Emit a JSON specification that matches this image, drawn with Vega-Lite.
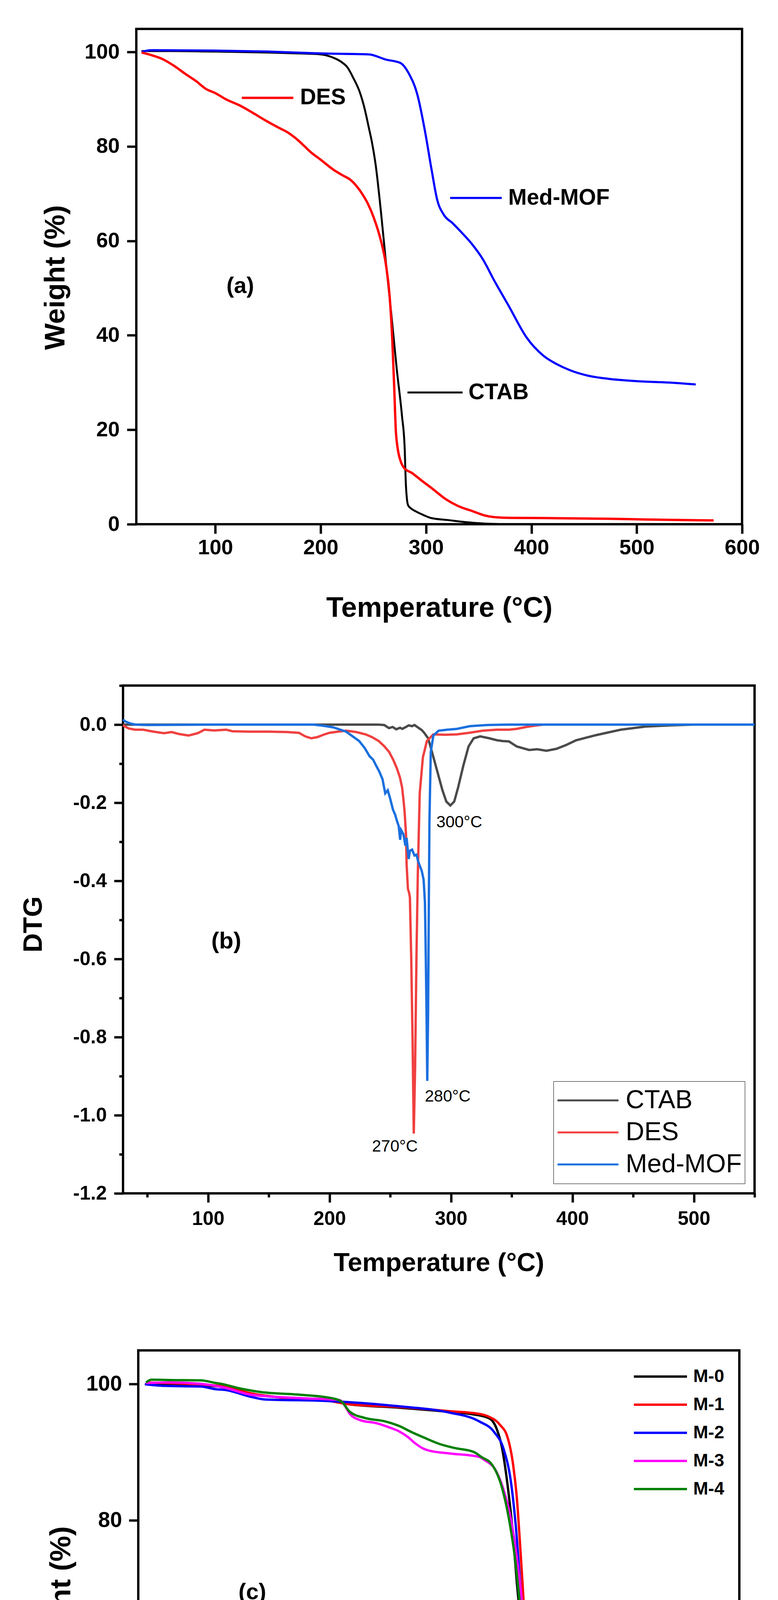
{
  "$schema": "https://vega.github.io/schema/vega-lite/v6.json",
  "padding": {"left": 0, "top": 71, "right": 0, "bottom": 0},
  "background": "white",
  "config": {
    "view": {"stroke": null},
    "font": "Liberation Sans",
    "axis": {
      "domain": false,
      "grid": false,
      "tickColor": "black",
      "tickWidth": 6,
      "labelColor": "black",
      "labelFont": "Liberation Sans",
      "labelFontWeight": "bold",
      "labelFlush": false,
      "labelOverlap": false,
      "titleColor": "black",
      "titleFont": "Liberation Sans",
      "titleFontWeight": "bold"
    }
  },
  "resolve": {
    "scale": {"color": "independent", "strokeWidth": "independent"},
    "legend": {"color": "independent", "strokeWidth": "independent"}
  },
  "datasets": {
    "a_lines": [
      {"series": "CTAB", "t": 30, "w": 100.2}, {"series": "CTAB", "t": 60, "w": 100.2}, {"series": "CTAB", "t": 100, "w": 100.1},
      {"series": "CTAB", "t": 150, "w": 99.9}, {"series": "CTAB", "t": 180, "w": 99.7}, {"series": "CTAB", "t": 200, "w": 99.5},
      {"series": "CTAB", "t": 212, "w": 98.8}, {"series": "CTAB", "t": 219, "w": 98.0}, {"series": "CTAB", "t": 225.6, "w": 96.7},
      {"series": "CTAB", "t": 231, "w": 94.5}, {"series": "CTAB", "t": 237.3, "w": 91.4}, {"series": "CTAB", "t": 241.5, "w": 88.2},
      {"series": "CTAB", "t": 245.6, "w": 84.1}, {"series": "CTAB", "t": 249, "w": 80.5}, {"series": "CTAB", "t": 252.2, "w": 76.1},
      {"series": "CTAB", "t": 257.2, "w": 66.2}, {"series": "CTAB", "t": 262.2, "w": 54.9}, {"series": "CTAB", "t": 267.2, "w": 44.2},
      {"series": "CTAB", "t": 272.2, "w": 32.9}, {"series": "CTAB", "t": 277.2, "w": 22.9}, {"series": "CTAB", "t": 279.7, "w": 16.3},
      {"series": "CTAB", "t": 280.9, "w": 8.3}, {"series": "CTAB", "t": 281.8, "w": 5.5}, {"series": "CTAB", "t": 283, "w": 4.0},
      {"series": "CTAB", "t": 286, "w": 3.3}, {"series": "CTAB", "t": 290.5, "w": 2.7}, {"series": "CTAB", "t": 297, "w": 2.0},
      {"series": "CTAB", "t": 305, "w": 1.3}, {"series": "CTAB", "t": 320, "w": 0.9}, {"series": "CTAB", "t": 345, "w": 0.3},
      {"series": "CTAB", "t": 370, "w": 0.05}, {"series": "CTAB", "t": 420, "w": 0.0},
      {"series": "Med-MOF", "t": 30, "w": 100.0}, {"series": "Med-MOF", "t": 35, "w": 100.3}, {"series": "Med-MOF", "t": 40, "w": 100.4},
      {"series": "Med-MOF", "t": 100, "w": 100.3}, {"series": "Med-MOF", "t": 150, "w": 100.1}, {"series": "Med-MOF", "t": 200, "w": 99.7},
      {"series": "Med-MOF", "t": 245.6, "w": 99.5}, {"series": "Med-MOF", "t": 262, "w": 98.4}, {"series": "Med-MOF", "t": 275.5, "w": 97.7},
      {"series": "Med-MOF", "t": 283.8, "w": 95.4}, {"series": "Med-MOF", "t": 292, "w": 90.8}, {"series": "Med-MOF", "t": 298.8, "w": 83.5},
      {"series": "Med-MOF", "t": 305.5, "w": 74.8}, {"series": "Med-MOF", "t": 310.5, "w": 68.8}, {"series": "Med-MOF", "t": 317, "w": 65.5},
      {"series": "Med-MOF", "t": 325, "w": 63.8}, {"series": "Med-MOF", "t": 332, "w": 62.2}, {"series": "Med-MOF", "t": 343, "w": 59.5},
      {"series": "Med-MOF", "t": 353.7, "w": 56.2}, {"series": "Med-MOF", "t": 365, "w": 51.5}, {"series": "Med-MOF", "t": 378.6, "w": 46.2},
      {"series": "Med-MOF", "t": 395.3, "w": 39.6}, {"series": "Med-MOF", "t": 411.9, "w": 35.6}, {"series": "Med-MOF", "t": 425, "w": 33.8},
      {"series": "Med-MOF", "t": 436.9, "w": 32.6}, {"series": "Med-MOF", "t": 455, "w": 31.4}, {"series": "Med-MOF", "t": 473, "w": 30.8},
      {"series": "Med-MOF", "t": 500, "w": 30.3}, {"series": "Med-MOF", "t": 530, "w": 30.0}, {"series": "Med-MOF", "t": 556, "w": 29.6},
      {"series": "DES", "t": 30, "w": 99.9}, {"series": "DES", "t": 40, "w": 99.3}, {"series": "DES", "t": 50, "w": 98.5},
      {"series": "DES", "t": 60, "w": 97.2}, {"series": "DES", "t": 72, "w": 95.3}, {"series": "DES", "t": 82, "w": 93.8},
      {"series": "DES", "t": 91, "w": 92.2}, {"series": "DES", "t": 100, "w": 91.3}, {"series": "DES", "t": 110, "w": 90.0},
      {"series": "DES", "t": 124, "w": 88.6}, {"series": "DES", "t": 135, "w": 87.2}, {"series": "DES", "t": 147, "w": 85.6},
      {"series": "DES", "t": 160, "w": 84.0}, {"series": "DES", "t": 170, "w": 82.8}, {"series": "DES", "t": 176, "w": 81.8},
      {"series": "DES", "t": 183, "w": 80.4}, {"series": "DES", "t": 190, "w": 78.9}, {"series": "DES", "t": 200, "w": 77.2},
      {"series": "DES", "t": 212, "w": 75.1}, {"series": "DES", "t": 220, "w": 74.0}, {"series": "DES", "t": 229, "w": 72.8},
      {"series": "DES", "t": 239, "w": 70.1}, {"series": "DES", "t": 245, "w": 67.8}, {"series": "DES", "t": 250.6, "w": 64.8},
      {"series": "DES", "t": 257, "w": 60.2}, {"series": "DES", "t": 262, "w": 54.9}, {"series": "DES", "t": 265.5, "w": 48.2},
      {"series": "DES", "t": 268, "w": 38.9}, {"series": "DES", "t": 269.7, "w": 29.6}, {"series": "DES", "t": 271.4, "w": 19.6},
      {"series": "DES", "t": 272.8, "w": 16.5}, {"series": "DES", "t": 273.9, "w": 15.0}, {"series": "DES", "t": 276, "w": 13.3},
      {"series": "DES", "t": 278.9, "w": 12.0}, {"series": "DES", "t": 287, "w": 10.8}, {"series": "DES", "t": 295.5, "w": 9.3},
      {"series": "DES", "t": 305, "w": 7.7}, {"series": "DES", "t": 318.8, "w": 5.3}, {"series": "DES", "t": 330, "w": 3.9},
      {"series": "DES", "t": 345, "w": 2.7}, {"series": "DES", "t": 355, "w": 1.9}, {"series": "DES", "t": 365, "w": 1.5},
      {"series": "DES", "t": 380, "w": 1.35}, {"series": "DES", "t": 412, "w": 1.3}, {"series": "DES", "t": 473, "w": 1.15},
      {"series": "DES", "t": 510, "w": 1.0}, {"series": "DES", "t": 573, "w": 0.8}
    ],
    "a_keys": [
      {"series": "DES", "t": 125.1, "t2": 174.1, "w": 90.3},
      {"series": "Med-MOF", "t": 322.9, "t2": 371.9, "w": 69.1},
      {"series": "CTAB", "t": 282.4, "t2": 334.7, "w": 27.9}
    ],
    "a_labels": [
      {"label": "DES", "t": 180.4, "w": 90.3},
      {"label": "Med-MOF", "t": 378, "w": 69.1},
      {"label": "CTAB", "t": 340.3, "w": 27.9}
    ],
    "a_tag": [{"label": "(a)", "t": 123.7, "w": 50.4}],
    "b_lines": [
      {"series": "CTAB", "t": 30, "d": 0.0}, {"series": "CTAB", "t": 50, "d": 0.0}, {"series": "CTAB", "t": 100, "d": 0.0},
      {"series": "CTAB", "t": 150, "d": 0.0}, {"series": "CTAB", "t": 200, "d": 0.0}, {"series": "CTAB", "t": 240, "d": 0.0},
      {"series": "CTAB", "t": 245, "d": -0.001}, {"series": "CTAB", "t": 249, "d": -0.009}, {"series": "CTAB", "t": 252, "d": -0.006},
      {"series": "CTAB", "t": 255, "d": -0.012}, {"series": "CTAB", "t": 258, "d": -0.008}, {"series": "CTAB", "t": 260, "d": -0.011},
      {"series": "CTAB", "t": 263, "d": -0.006}, {"series": "CTAB", "t": 265.2, "d": -0.002}, {"series": "CTAB", "t": 268, "d": -0.004},
      {"series": "CTAB", "t": 270, "d": -0.001}, {"series": "CTAB", "t": 272.7, "d": -0.007}, {"series": "CTAB", "t": 276, "d": -0.014},
      {"series": "CTAB", "t": 278, "d": -0.021}, {"series": "CTAB", "t": 281.2, "d": -0.035}, {"series": "CTAB", "t": 284.4, "d": -0.07},
      {"series": "CTAB", "t": 288.7, "d": -0.119}, {"series": "CTAB", "t": 293, "d": -0.168}, {"series": "CTAB", "t": 296.2, "d": -0.197},
      {"series": "CTAB", "t": 299.5, "d": -0.207}, {"series": "CTAB", "t": 302.7, "d": -0.197}, {"series": "CTAB", "t": 305.9, "d": -0.161},
      {"series": "CTAB", "t": 310.2, "d": -0.105}, {"series": "CTAB", "t": 314.5, "d": -0.056}, {"series": "CTAB", "t": 318.7, "d": -0.035},
      {"series": "CTAB", "t": 324.1, "d": -0.030}, {"series": "CTAB", "t": 331.6, "d": -0.035}, {"series": "CTAB", "t": 337.9, "d": -0.040},
      {"series": "CTAB", "t": 342.3, "d": -0.042}, {"series": "CTAB", "t": 347.7, "d": -0.043}, {"series": "CTAB", "t": 354.2, "d": -0.056},
      {"series": "CTAB", "t": 364.4, "d": -0.065}, {"series": "CTAB", "t": 371, "d": -0.063}, {"series": "CTAB", "t": 378.6, "d": -0.067},
      {"series": "CTAB", "t": 386.8, "d": -0.062}, {"series": "CTAB", "t": 395, "d": -0.052}, {"series": "CTAB", "t": 403.1, "d": -0.040},
      {"series": "CTAB", "t": 419.4, "d": -0.027}, {"series": "CTAB", "t": 439.8, "d": -0.013}, {"series": "CTAB", "t": 460.2, "d": -0.005},
      {"series": "CTAB", "t": 480.6, "d": -0.002}, {"series": "CTAB", "t": 500, "d": 0.0}, {"series": "CTAB", "t": 550, "d": 0.0},
      {"series": "DES", "t": 30, "d": -0.002}, {"series": "DES", "t": 34.7, "d": -0.010}, {"series": "DES", "t": 40, "d": -0.013},
      {"series": "DES", "t": 46.5, "d": -0.013}, {"series": "DES", "t": 55, "d": -0.018}, {"series": "DES", "t": 63.7, "d": -0.022},
      {"series": "DES", "t": 70, "d": -0.019}, {"series": "DES", "t": 76, "d": -0.024}, {"series": "DES", "t": 84, "d": -0.028},
      {"series": "DES", "t": 91.5, "d": -0.022}, {"series": "DES", "t": 97, "d": -0.013}, {"series": "DES", "t": 105, "d": -0.015},
      {"series": "DES", "t": 115, "d": -0.013}, {"series": "DES", "t": 120, "d": -0.017}, {"series": "DES", "t": 134, "d": -0.018},
      {"series": "DES", "t": 150, "d": -0.018}, {"series": "DES", "t": 165, "d": -0.019}, {"series": "DES", "t": 174.8, "d": -0.021},
      {"series": "DES", "t": 180, "d": -0.030}, {"series": "DES", "t": 185, "d": -0.035}, {"series": "DES", "t": 190, "d": -0.032},
      {"series": "DES", "t": 195, "d": -0.026}, {"series": "DES", "t": 200, "d": -0.021}, {"series": "DES", "t": 207, "d": -0.018},
      {"series": "DES", "t": 213.7, "d": -0.0155}, {"series": "DES", "t": 222, "d": -0.019}, {"series": "DES", "t": 229.8, "d": -0.025},
      {"series": "DES", "t": 235, "d": -0.032}, {"series": "DES", "t": 240.5, "d": -0.042}, {"series": "DES", "t": 245, "d": -0.055},
      {"series": "DES", "t": 249.1, "d": -0.070}, {"series": "DES", "t": 252.5, "d": -0.090}, {"series": "DES", "t": 255.5, "d": -0.112},
      {"series": "DES", "t": 258, "d": -0.135}, {"series": "DES", "t": 259.8, "d": -0.161}, {"series": "DES", "t": 261, "d": -0.195},
      {"series": "DES", "t": 261.9, "d": -0.225}, {"series": "DES", "t": 263, "d": -0.281}, {"series": "DES", "t": 263.5, "d": -0.358},
      {"series": "DES", "t": 264.6, "d": -0.421}, {"series": "DES", "t": 265.5, "d": -0.43}, {"series": "DES", "t": 266.2, "d": -0.442},
      {"series": "DES", "t": 267.3, "d": -0.597}, {"series": "DES", "t": 268.4, "d": -0.807}, {"series": "DES", "t": 269.4, "d": -1.047},
      {"series": "DES", "t": 270.5, "d": -0.877}, {"series": "DES", "t": 271.6, "d": -0.597}, {"series": "DES", "t": 272.7, "d": -0.386},
      {"series": "DES", "t": 274.3, "d": -0.176}, {"series": "DES", "t": 276.9, "d": -0.084}, {"series": "DES", "t": 280.2, "d": -0.042},
      {"series": "DES", "t": 285.5, "d": -0.025}, {"series": "DES", "t": 295, "d": -0.026}, {"series": "DES", "t": 304.8, "d": -0.025},
      {"series": "DES", "t": 315, "d": -0.021}, {"series": "DES", "t": 326.2, "d": -0.0155}, {"series": "DES", "t": 337.9, "d": -0.013},
      {"series": "DES", "t": 347.7, "d": -0.013}, {"series": "DES", "t": 354, "d": -0.011}, {"series": "DES", "t": 362, "d": -0.006},
      {"series": "DES", "t": 370.5, "d": -0.002}, {"series": "DES", "t": 376, "d": 0.0},
      {"series": "Med-MOF", "t": 30, "d": 0.013}, {"series": "Med-MOF", "t": 32, "d": 0.008}, {"series": "Med-MOF", "t": 35.8, "d": 0.003},
      {"series": "Med-MOF", "t": 40, "d": 0.0}, {"series": "Med-MOF", "t": 50, "d": -0.001}, {"series": "Med-MOF", "t": 100, "d": 0.0},
      {"series": "Med-MOF", "t": 150, "d": 0.0}, {"series": "Med-MOF", "t": 186.9, "d": 0.0}, {"series": "Med-MOF", "t": 195, "d": -0.003},
      {"series": "Med-MOF", "t": 203, "d": -0.007}, {"series": "Med-MOF", "t": 213.7, "d": -0.018}, {"series": "Med-MOF", "t": 224.4, "d": -0.042},
      {"series": "Med-MOF", "t": 229, "d": -0.06}, {"series": "Med-MOF", "t": 233, "d": -0.081}, {"series": "Med-MOF", "t": 236, "d": -0.09},
      {"series": "Med-MOF", "t": 238.4, "d": -0.105}, {"series": "Med-MOF", "t": 241, "d": -0.12}, {"series": "Med-MOF", "t": 243.7, "d": -0.140},
      {"series": "Med-MOF", "t": 245.2, "d": -0.165}, {"series": "Med-MOF", "t": 245.9, "d": -0.176}, {"series": "Med-MOF", "t": 248, "d": -0.168},
      {"series": "Med-MOF", "t": 250, "d": -0.19}, {"series": "Med-MOF", "t": 252.3, "d": -0.218}, {"series": "Med-MOF", "t": 254, "d": -0.23},
      {"series": "Med-MOF", "t": 255.5, "d": -0.246}, {"series": "Med-MOF", "t": 257, "d": -0.26}, {"series": "Med-MOF", "t": 258.2, "d": -0.295},
      {"series": "Med-MOF", "t": 259, "d": -0.27}, {"series": "Med-MOF", "t": 260.9, "d": -0.281}, {"series": "Med-MOF", "t": 262.5, "d": -0.31},
      {"series": "Med-MOF", "t": 263.5, "d": -0.29}, {"series": "Med-MOF", "t": 265.2, "d": -0.344}, {"series": "Med-MOF", "t": 266.2, "d": -0.323},
      {"series": "Med-MOF", "t": 268, "d": -0.32}, {"series": "Med-MOF", "t": 270, "d": -0.335}, {"series": "Med-MOF", "t": 271.6, "d": -0.333},
      {"series": "Med-MOF", "t": 273, "d": -0.35}, {"series": "Med-MOF", "t": 274.8, "d": -0.365}, {"series": "Med-MOF", "t": 276, "d": -0.375},
      {"series": "Med-MOF", "t": 277.5, "d": -0.397}, {"series": "Med-MOF", "t": 278.6, "d": -0.456}, {"series": "Med-MOF", "t": 279.3, "d": -0.597},
      {"series": "Med-MOF", "t": 279.9, "d": -0.737}, {"series": "Med-MOF", "t": 280.5, "d": -0.912}, {"series": "Med-MOF", "t": 281.2, "d": -0.737},
      {"series": "Med-MOF", "t": 281.8, "d": -0.456}, {"series": "Med-MOF", "t": 282.3, "d": -0.246}, {"series": "Med-MOF", "t": 283.4, "d": -0.070},
      {"series": "Med-MOF", "t": 285.5, "d": -0.028}, {"series": "Med-MOF", "t": 289.8, "d": -0.0155}, {"series": "Med-MOF", "t": 297, "d": -0.013},
      {"series": "Med-MOF", "t": 304.8, "d": -0.011}, {"series": "Med-MOF", "t": 315.5, "d": -0.004}, {"series": "Med-MOF", "t": 330, "d": -0.001},
      {"series": "Med-MOF", "t": 347.7, "d": 0.0}, {"series": "Med-MOF", "t": 400, "d": 0.0}, {"series": "Med-MOF", "t": 450, "d": 0.0},
      {"series": "Med-MOF", "t": 500, "d": 0.0}, {"series": "Med-MOF", "t": 550, "d": 0.0}
    ],
    "b_peaks": [
      {"label": "300°C", "t": 288, "d": -0.263},
      {"label": "280°C", "t": 278.5, "d": -0.965},
      {"label": "270°C", "t": 235, "d": -1.093}
    ],
    "b_tag": [{"label": "(b)", "t": 115, "d": -0.555}],
    "c_lines": [
      {"series": "M-0", "t": 30, "w": 100.1}, {"series": "M-0", "t": 60, "w": 100.0}, {"series": "M-0", "t": 101, "w": 99.8},
      {"series": "M-0", "t": 133, "w": 99.5}, {"series": "M-0", "t": 166, "w": 98.6}, {"series": "M-0", "t": 204, "w": 98.0},
      {"series": "M-0", "t": 262, "w": 97.6}, {"series": "M-0", "t": 294, "w": 97.0}, {"series": "M-0", "t": 359, "w": 96.5},
      {"series": "M-0", "t": 423, "w": 95.9}, {"series": "M-0", "t": 450, "w": 95.6}, {"series": "M-0", "t": 474.6, "w": 95.0},
      {"series": "M-0", "t": 484.4, "w": 93.6}, {"series": "M-0", "t": 491.7, "w": 90.8}, {"series": "M-0", "t": 499.1, "w": 85.3},
      {"series": "M-0", "t": 506.5, "w": 77.6}, {"series": "M-0", "t": 511.4, "w": 70.7}, {"series": "M-0", "t": 516.3, "w": 65.2},
      {"series": "M-0", "t": 521.2, "w": 60.6}, {"series": "M-0", "t": 528.6, "w": 57.4}, {"series": "M-0", "t": 540.8, "w": 54.2},
      {"series": "M-0", "t": 562.9, "w": 51.0}, {"series": "M-0", "t": 580, "w": 49.0}, {"series": "M-0", "t": 597.3, "w": 47.6},
      {"series": "M-0", "t": 615, "w": 46.5}, {"series": "M-0", "t": 634.1, "w": 45.7}, {"series": "M-0", "t": 670.9, "w": 44.7},
      {"series": "M-0", "t": 720, "w": 43.4}, {"series": "M-0", "t": 760, "w": 42.6}, {"series": "M-0", "t": 795, "w": 41.9},
      {"series": "M-1", "t": 30, "w": 100.2}, {"series": "M-1", "t": 60, "w": 100.1}, {"series": "M-1", "t": 101, "w": 99.9},
      {"series": "M-1", "t": 133, "w": 99.6}, {"series": "M-1", "t": 166, "w": 98.6}, {"series": "M-1", "t": 204, "w": 98.0},
      {"series": "M-1", "t": 262, "w": 97.6}, {"series": "M-1", "t": 294, "w": 97.0}, {"series": "M-1", "t": 359, "w": 96.6},
      {"series": "M-1", "t": 423, "w": 96.0}, {"series": "M-1", "t": 462, "w": 95.6}, {"series": "M-1", "t": 474.6, "w": 95.2},
      {"series": "M-1", "t": 489.3, "w": 94.0}, {"series": "M-1", "t": 499.1, "w": 92.2}, {"series": "M-1", "t": 506.5, "w": 88.1},
      {"series": "M-1", "t": 511.4, "w": 83.1}, {"series": "M-1", "t": 515.1, "w": 77.1}, {"series": "M-1", "t": 518.7, "w": 70.7},
      {"series": "M-1", "t": 522.4, "w": 63.8}, {"series": "M-1", "t": 527.3, "w": 57.9}, {"series": "M-1", "t": 533.4, "w": 51.5},
      {"series": "M-1", "t": 540.8, "w": 48.5}, {"series": "M-1", "t": 553.1, "w": 46.0}, {"series": "M-1", "t": 572.7, "w": 43.2},
      {"series": "M-1", "t": 597.3, "w": 41.2}, {"series": "M-1", "t": 621.8, "w": 40.1}, {"series": "M-1", "t": 645, "w": 39.4},
      {"series": "M-1", "t": 670.9, "w": 38.9}, {"series": "M-1", "t": 720, "w": 37.8}, {"series": "M-1", "t": 760, "w": 37.1},
      {"series": "M-1", "t": 795, "w": 36.5},
      {"series": "M-2", "t": 28.5, "w": 99.95}, {"series": "M-2", "t": 53.8, "w": 99.7}, {"series": "M-2", "t": 101, "w": 99.6},
      {"series": "M-2", "t": 121.4, "w": 99.2}, {"series": "M-2", "t": 133, "w": 99.1}, {"series": "M-2", "t": 166, "w": 98.1},
      {"series": "M-2", "t": 185, "w": 97.7}, {"series": "M-2", "t": 262, "w": 97.5}, {"series": "M-2", "t": 359, "w": 96.7},
      {"series": "M-2", "t": 423, "w": 95.8}, {"series": "M-2", "t": 462.3, "w": 94.5}, {"series": "M-2", "t": 482, "w": 92.9},
      {"series": "M-2", "t": 494.2, "w": 90.4}, {"series": "M-2", "t": 504, "w": 85.3}, {"series": "M-2", "t": 510.1, "w": 78.9},
      {"series": "M-2", "t": 516.3, "w": 69.8}, {"series": "M-2", "t": 522.4, "w": 62.4}, {"series": "M-2", "t": 528.6, "w": 56.0},
      {"series": "M-2", "t": 535.9, "w": 51.5}, {"series": "M-2", "t": 553.1, "w": 48.3}, {"series": "M-2", "t": 585, "w": 44.8},
      {"series": "M-2", "t": 621.8, "w": 43.0}, {"series": "M-2", "t": 670.9, "w": 41.8}, {"series": "M-2", "t": 720, "w": 40.8},
      {"series": "M-2", "t": 760, "w": 40.0}, {"series": "M-2", "t": 795, "w": 39.2},
      {"series": "M-3", "t": 30, "w": 100.1}, {"series": "M-3", "t": 60, "w": 100.2}, {"series": "M-3", "t": 101, "w": 100.0},
      {"series": "M-3", "t": 133, "w": 99.4}, {"series": "M-3", "t": 166, "w": 98.4}, {"series": "M-3", "t": 230, "w": 97.9},
      {"series": "M-3", "t": 281.6, "w": 97.6}, {"series": "M-3", "t": 288, "w": 96.8}, {"series": "M-3", "t": 294.5, "w": 95.6},
      {"series": "M-3", "t": 307.4, "w": 94.7}, {"series": "M-3", "t": 330, "w": 94.2}, {"series": "M-3", "t": 346, "w": 93.6},
      {"series": "M-3", "t": 359, "w": 93.0}, {"series": "M-3", "t": 370, "w": 92.2}, {"series": "M-3", "t": 378, "w": 91.4},
      {"series": "M-3", "t": 390, "w": 90.5}, {"series": "M-3", "t": 397.6, "w": 90.2}, {"series": "M-3", "t": 423.4, "w": 89.8},
      {"series": "M-3", "t": 462, "w": 89.3}, {"series": "M-3", "t": 469.7, "w": 88.8}, {"series": "M-3", "t": 484.4, "w": 87.2},
      {"series": "M-3", "t": 494.2, "w": 84.4}, {"series": "M-3", "t": 504, "w": 79.9}, {"series": "M-3", "t": 511.4, "w": 74.4},
      {"series": "M-3", "t": 517.6, "w": 68.4}, {"series": "M-3", "t": 522.4, "w": 61.5}, {"series": "M-3", "t": 528.6, "w": 54.7},
      {"series": "M-3", "t": 534.7, "w": 49.6}, {"series": "M-3", "t": 543.3, "w": 46.0}, {"series": "M-3", "t": 560.5, "w": 42.8},
      {"series": "M-3", "t": 585, "w": 40.0}, {"series": "M-3", "t": 609.5, "w": 38.4}, {"series": "M-3", "t": 646.3, "w": 37.3},
      {"series": "M-3", "t": 695.4, "w": 36.1}, {"series": "M-3", "t": 750, "w": 35.2}, {"series": "M-3", "t": 795, "w": 34.3},
      {"series": "M-4", "t": 30.1, "w": 100.2}, {"series": "M-4", "t": 36.9, "w": 100.6}, {"series": "M-4", "t": 62.2, "w": 100.55},
      {"series": "M-4", "t": 101, "w": 100.5}, {"series": "M-4", "t": 121.4, "w": 100.1}, {"series": "M-4", "t": 127, "w": 100.0},
      {"series": "M-4", "t": 152.7, "w": 99.3}, {"series": "M-4", "t": 178.5, "w": 98.8}, {"series": "M-4", "t": 230, "w": 98.4},
      {"series": "M-4", "t": 275, "w": 97.8}, {"series": "M-4", "t": 284.8, "w": 97.3}, {"series": "M-4", "t": 294.5, "w": 95.9},
      {"series": "M-4", "t": 313.8, "w": 95.0}, {"series": "M-4", "t": 340, "w": 94.5}, {"series": "M-4", "t": 358.9, "w": 93.8},
      {"series": "M-4", "t": 375, "w": 92.9}, {"series": "M-4", "t": 391.2, "w": 92.1}, {"series": "M-4", "t": 410.5, "w": 91.2},
      {"series": "M-4", "t": 430, "w": 90.6}, {"series": "M-4", "t": 455.6, "w": 90.0}, {"series": "M-4", "t": 465, "w": 89.3},
      {"series": "M-4", "t": 479.4, "w": 88.1}, {"series": "M-4", "t": 491.7, "w": 84.9}, {"series": "M-4", "t": 501.5, "w": 79.9},
      {"series": "M-4", "t": 508.9, "w": 74.4}, {"series": "M-4", "t": 515.1, "w": 67.9}, {"series": "M-4", "t": 521.2, "w": 61.5},
      {"series": "M-4", "t": 527.3, "w": 54.7}, {"series": "M-4", "t": 533.4, "w": 50.1}, {"series": "M-4", "t": 543.3, "w": 46.4},
      {"series": "M-4", "t": 560.5, "w": 43.4}, {"series": "M-4", "t": 585, "w": 41.2}, {"series": "M-4", "t": 609.5, "w": 39.6},
      {"series": "M-4", "t": 646.3, "w": 38.2}, {"series": "M-4", "t": 695.4, "w": 37.2}, {"series": "M-4", "t": 750, "w": 36.1},
      {"series": "M-4", "t": 795, "w": 35.0}
    ],
    "c_tag": [{"label": "(c)", "t": 168, "w": 69.4}]
  },
  "vconcat": [
    {
      "spacing": 0,
      "resolve": {"scale": {"color": "independent", "strokeWidth": "independent"}, "legend": {"color": "independent", "strokeWidth": "independent"}},
      "hconcat": [
        {"width": 103, "height": 1543, "data": {"values": []}, "mark": "point", "view": {"stroke": null}},
        {
          "width": 1551,
          "height": 1268,
          "view": {"stroke": "black", "strokeWidth": 6},
          "layer": [
            {
              "data": {"name": "a_lines"},
              "mark": {"type": "line", "interpolate": "monotone"},
              "encoding": {
                "x": {"field": "t", "type": "quantitative", "scale": {"domain": [25, 600], "nice": false, "zero": false},
                  "axis": {"title": "Temperature (°C)", "values": [100, 200, 300, 400, 500, 600], "tickSize": 24, "labelPadding": 9,
                    "labelFontSize": 54, "titleFontSize": 72, "titleY": 251, "titleBaseline": "bottom"}},
                "y": {"field": "w", "type": "quantitative", "scale": {"domain": [0, 104.9], "nice": false, "zero": false},
                  "axis": {"title": "Weight (%)", "values": [0, 20, 40, 60, 80, 100], "tickSize": 24, "labelPadding": 19,
                    "labelFontSize": 54, "titleFontSize": 72, "titleX": -170, "titleY": 636, "titleAngle": 270, "titleBaseline": "bottom", "titleAlign": "center"}},
                "color": {"field": "series", "type": "nominal", "scale": {"domain": ["CTAB", "Med-MOF", "DES"], "range": ["#000000", "#0000ff", "#ff0000"]}, "legend": null},
                "strokeWidth": {"field": "series", "type": "nominal", "scale": {"domain": ["CTAB", "Med-MOF", "DES"], "range": [5, 6, 6.5]}, "legend": null}
              }
            },
            {
              "data": {"name": "a_keys"},
              "mark": {"type": "rule"},
              "encoding": {
                "x": {"field": "t", "type": "quantitative"},
                "x2": {"field": "t2"},
                "y": {"field": "w", "type": "quantitative"},
                "color": {"field": "series", "type": "nominal", "legend": null},
                "strokeWidth": {"field": "series", "type": "nominal", "legend": null}
              }
            },
            {
              "data": {"name": "a_labels"},
              "mark": {"type": "text", "align": "left", "baseline": "middle", "fontSize": 57, "fontWeight": "bold", "color": "black"},
              "encoding": {
                "x": {"field": "t", "type": "quantitative"},
                "y": {"field": "w", "type": "quantitative"},
                "text": {"field": "label"}
              }
            },
            {
              "data": {"name": "a_tag"},
              "mark": {"type": "text", "align": "center", "baseline": "middle", "fontSize": 58, "fontWeight": "bold", "color": "black"},
              "encoding": {
                "x": {"field": "t", "type": "quantitative"},
                "y": {"field": "w", "type": "quantitative"},
                "text": {"field": "label"}
              }
            }
          ]
        }
      ]
    },
    {
      "spacing": 0,
      "resolve": {"scale": {"color": "independent"}, "legend": {"color": "independent"}},
      "hconcat": [
        {"width": 49, "height": 1589, "data": {"values": []}, "mark": "point", "view": {"stroke": null}},
        {
          "width": 1617,
          "height": 1300,
          "view": {"stroke": "black", "strokeWidth": 6},
          "layer": [
            {
              "data": {"name": "b_lines"},
              "mark": {"type": "line", "strokeWidth": 6},
              "encoding": {
                "x": {"field": "t", "type": "quantitative", "scale": {"domain": [30, 550], "nice": false, "zero": false},
                  "axis": {"title": "Temperature (°C)", "values": [50, 100, 150, 200, 250, 300, 350, 400, 450, 500, 550],
                    "labelExpr": "datum.value % 100 == 0 ? datum.label : ''",
                    "tickSize": {"condition": {"test": "datum.value % 100 == 0", "value": 23}, "value": 10},
                    "labelPadding": 17, "labelFontSize": 50, "titleFontSize": 67, "titleY": 212, "titleBaseline": "bottom"}},
                "y": {"field": "d", "type": "quantitative", "scale": {"domain": [-1.2, 0.1], "nice": false, "zero": false},
                  "axis": {"title": "DTG", "values": [-1.2, -1.1, -1.0, -0.9, -0.8, -0.7, -0.6, -0.5, -0.4, -0.3, -0.2, -0.1, 0, 0.1],
                    "labelExpr": "abs(round(datum.value * 10)) % 2 == 0 ? replace(format(datum.value, '.1f'), '−', '-') : ''",
                    "tickSize": {"condition": {"test": "abs(round(datum.value * 10)) % 2 == 0", "value": 23}, "value": 10},
                    "labelPadding": 19, "labelFontSize": 50, "titleFontSize": 68, "titleX": -195, "titleY": 611, "titleAngle": 270, "titleBaseline": "bottom", "titleAlign": "center"}},
                "color": {"field": "series", "type": "nominal",
                  "scale": {"domain": ["CTAB", "DES", "Med-MOF"], "range": ["#4a4a4a", "#f04040", "#1a6fdf"]},
                  "legend": {"title": null, "orient": "bottom-right", "offset": 25, "symbolType": "stroke", "symbolSize": 24336,
                    "symbolStrokeWidth": 5, "labelFont": "Liberation Sans", "labelFontSize": 66, "labelFontWeight": "normal", "labelColor": "black",
                    "labelOffset": 16, "labelLimit": 600, "padding": 8, "clipHeight": 82, "rowPadding": 0,
                    "strokeColor": "black", "fillColor": "white"}}
              }
            },
            {
              "data": {"name": "b_peaks"},
              "mark": {"type": "text", "align": "left", "baseline": "alphabetic", "fontSize": 42, "color": "black"},
              "encoding": {
                "x": {"field": "t", "type": "quantitative"},
                "y": {"field": "d", "type": "quantitative"},
                "text": {"field": "label"}
              }
            },
            {
              "data": {"name": "b_tag"},
              "mark": {"type": "text", "align": "center", "baseline": "middle", "fontSize": 60, "fontWeight": "bold", "color": "black"},
              "encoding": {
                "x": {"field": "t", "type": "quantitative"},
                "y": {"field": "d", "type": "quantitative"},
                "text": {"field": "label"}
              }
            }
          ]
        }
      ]
    },
    {
      "spacing": 0,
      "resolve": {"scale": {"color": "independent"}, "legend": {"color": "independent"}},
      "hconcat": [
        {"width": 117, "height": 10, "data": {"values": []}, "mark": "point", "view": {"stroke": null}},
        {
          "width": 1539,
          "height": 1266,
          "view": {"stroke": "black", "strokeWidth": 6},
          "layer": [
            {
              "data": {"name": "c_lines"},
              "mark": {"type": "line", "interpolate": "monotone", "strokeWidth": 6},
              "encoding": {
                "x": {"field": "t", "type": "quantitative", "scale": {"domain": [20, 800], "nice": false, "zero": false},
                  "axis": {"title": "Temperature (°C)", "values": [100, 200, 300, 400, 500, 600, 700, 800], "tickSize": 24, "labelPadding": 24,
                    "labelFontSize": 55, "titleFontSize": 74, "titleY": 258, "titleBaseline": "bottom"}},
                "y": {"field": "w", "type": "quantitative", "scale": {"domain": [32.4, 104.9], "nice": false, "zero": false},
                  "axis": {"title": "Weight (%)", "values": [40, 60, 80, 100], "tickSize": 24, "labelPadding": 18,
                    "labelFontSize": 55, "titleFontSize": 74, "titleX": -159, "titleY": 640, "titleAngle": 270, "titleBaseline": "bottom", "titleAlign": "center"}},
                "color": {"field": "series", "type": "nominal",
                  "scale": {"domain": ["M-0", "M-1", "M-2", "M-3", "M-4"], "range": ["#000000", "#ff0000", "#0000ff", "#ff00ff", "#008000"]},
                  "legend": {"title": null, "orient": "none", "legendX": 1266, "legendY": 31, "symbolType": "stroke", "symbolSize": 18496,
                    "symbolStrokeWidth": 6, "labelFont": "Liberation Sans", "labelFontSize": 46, "labelFontWeight": "bold", "labelColor": "black",
                    "labelOffset": 13, "labelLimit": 400, "padding": 0, "clipHeight": 72, "rowPadding": 0}}
              }
            },
            {
              "data": {"name": "c_tag"},
              "mark": {"type": "text", "align": "center", "baseline": "middle", "fontSize": 58, "fontWeight": "bold", "color": "black"},
              "encoding": {
                "x": {"field": "t", "type": "quantitative"},
                "y": {"field": "w", "type": "quantitative"},
                "text": {"field": "label"}
              }
            }
          ]
        }
      ]
    }
  ],
  "spacing": 110
}
